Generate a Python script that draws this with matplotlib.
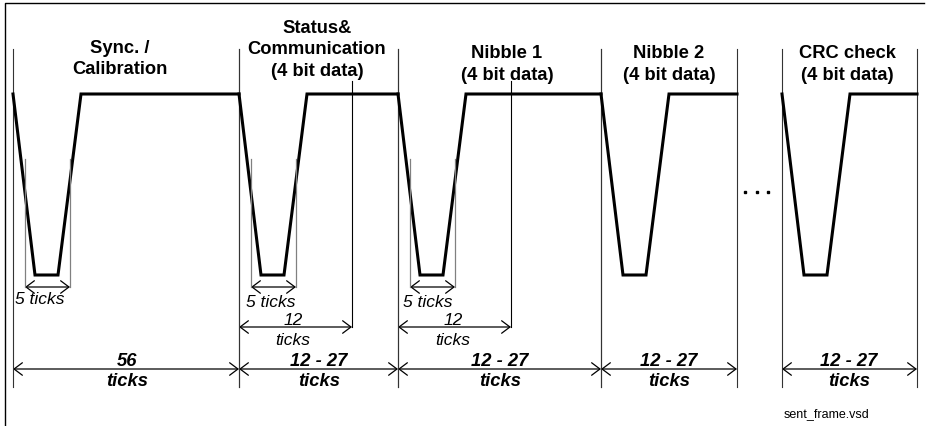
import matplotlib
matplotlib.use("Agg")
import matplotlib.pyplot as plt
from matplotlib.patches import FancyArrowPatch

plt.rcParams['font.family'] = ['Liberation Sans', 'DejaVu Sans']

# frame layout (diagram units ~ pixels, y grows downward)
seg_start = [13, 239, 398, 601, 782]
seg_end = [239, 398, 601, 737, 917]
titles = [["Sync. /", "Calibration"],
          ["Status&", "Communication", "(4 bit data)"],
          ["Nibble 1", "(4 bit data)"],
          ["Nibble 2", "(4 bit data)"],
          ["CRC check", "(4 bit data)"]]
title_base = [53, 33, 58, 58, 58]
title_cx = [120, 317, 507, 669, 847]
length_top = ["56", "12 - 27", "12 - 27", "12 - 27", "12 - 27"]
length_cx = [127, 319, 500, 669, 849]

# pulse shape: offsets of fall end, rise start, rise end from segment start
pulse_off = [0, 22, 45, 68]
high_y = 95
low_y = 276

# 5-tick markers (segments 0..2) and 12-tick markers (segments 1..2)
five_off = [12, 57]
five_text_cx = [40, 271, 428]
five_text_base = [304, 307, 307]
twelve_off = 113
twelve_cx = [293, 453]

dots_x = [745, 757, 768]

fig = plt.figure(figsize=(9.27, 4.27), dpi=100)
ax = fig.add_axes([0, 0, 1, 1])
ax.set_xlim(0, 927)
ax.set_ylim(427, 0)
ax.axis("off")


def arrow(x0, x1, y):
    a = FancyArrowPatch((x0, y), (x1, y), arrowstyle="<->,head_length=0.6,head_width=0.45",
                        mutation_scale=10, shrinkA=0, shrinkB=0, lw=0.9, color="black")
    ax.add_patch(a)


# frame (left and top edges)
ax.plot([5, 5, 924], [427, 4, 4], color="black", lw=1)

for i, (s, e) in enumerate(zip(seg_start, seg_end)):
    # boundaries
    ax.plot([s, s], [50, 388], color="#333333", lw=0.8)
    ax.plot([e, e], [50, 388], color="#333333", lw=0.8)
    # waveform
    xs = [s + o for o in pulse_off] + [e]
    ys = [high_y, low_y, low_y, high_y, high_y]
    ax.plot(xs, ys, color="black", lw=2.2, solid_joinstyle="miter")
    # title
    for k, line in enumerate(titles[i]):
        ax.text(title_cx[i], title_base[i] + 21.5 * k, line, ha="center", va="baseline",
                fontsize=13.2, fontweight="bold")
    # total length
    arrow(s, e, 370)
    ax.text(length_cx[i], 366, length_top[i], ha="center", va="baseline",
            fontsize=13.2, fontweight="bold", style="italic")
    ax.text(length_cx[i], 386, "ticks", ha="center", va="baseline",
            fontsize=13.2, fontweight="bold", style="italic")

for i in range(3):
    s = seg_start[i]
    m0, m1 = s + five_off[0], s + five_off[1]
    ax.plot([m0, m0], [160, 288], color="#808080", lw=0.9)
    ax.plot([m1, m1], [160, 288], color="#808080", lw=0.9)
    arrow(m0, m1, 288)
    ax.text(five_text_cx[i], five_text_base[i], "5 ticks", ha="center", va="baseline",
            fontsize=12.5, style="italic")

for j, i in enumerate([1, 2]):
    s = seg_start[i]
    t = s + twelve_off
    ax.plot([t, t], [82, 328], color="black", lw=0.8)
    arrow(s, t, 328)
    ax.text(twelve_cx[j], 325, "12", ha="center", va="baseline", fontsize=12.5, style="italic")
    ax.text(twelve_cx[j], 345, "ticks", ha="center", va="baseline", fontsize=12.5, style="italic")

ax.plot(dots_x, [193] * len(dots_x), "s", color="black", ms=1.8)

ax.text(827, 417, "sent_frame.vsd", ha="center", va="baseline", fontsize=9)

fig.savefig("out.png", dpi=100)
